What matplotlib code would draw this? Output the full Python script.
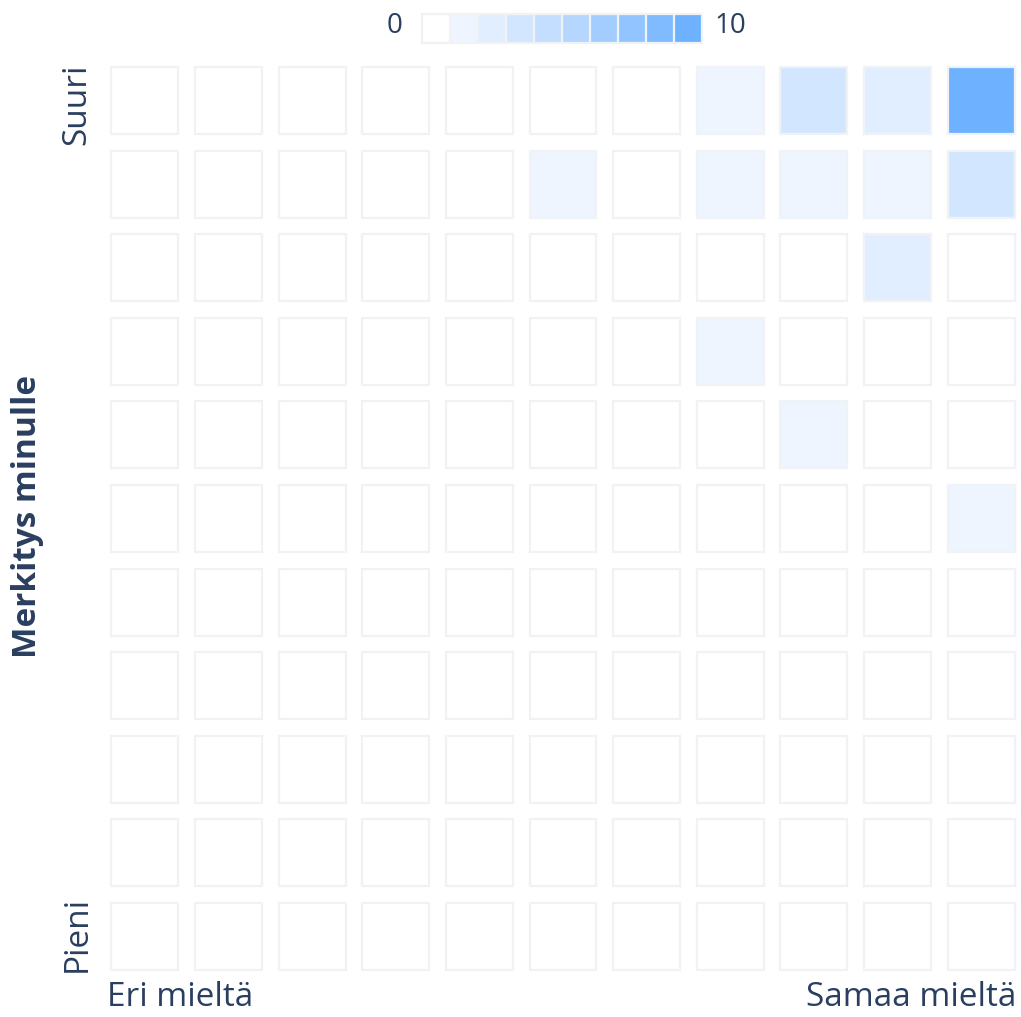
import matplotlib
matplotlib.use("Agg")
import matplotlib.pyplot as plt
import numpy as np
from matplotlib.colors import ListedColormap, BoundaryNorm
from matplotlib.patches import Rectangle
import matplotlib.cm as cm

plt.rcParams['font.family'] = ['Open Sans', 'DejaVu Sans']

# Rows from top ("Suuri") to bottom ("Pieni"); columns from "Eri mieltä" to "Samaa mieltä"
counts = [
    [0, 0, 0, 0, 0, 0, 0, 1, 3, 2, 9],
    [0, 0, 0, 0, 0, 1, 0, 1, 1, 1, 3],
    [0, 0, 0, 0, 0, 0, 0, 0, 0, 2, 0],
    [0, 0, 0, 0, 0, 0, 0, 1, 0, 0, 0],
    [0, 0, 0, 0, 0, 0, 0, 0, 1, 0, 0],
    [0, 0, 0, 0, 0, 0, 0, 0, 0, 0, 1],
    [0, 0, 0, 0, 0, 0, 0, 0, 0, 0, 0],
    [0, 0, 0, 0, 0, 0, 0, 0, 0, 0, 0],
    [0, 0, 0, 0, 0, 0, 0, 0, 0, 0, 0],
    [0, 0, 0, 0, 0, 0, 0, 0, 0, 0, 0],
    [0, 0, 0, 0, 0, 0, 0, 0, 0, 0, 0],
]
x_labels = ["Eri mieltä", "Samaa mieltä"]
y_labels = ["Suuri", "Pieni"]
y_title = "Merkitys minulle"
scale_min, scale_max = 0, 10
scale_colors = ["#ffffff", "#eef5ff", "#e1eeff", "#d3e6ff", "#c4deff",
                "#b4d6ff", "#a3cdff", "#92c4ff", "#80bbff", "#6eb1ff"]

TEXT = "#2a3f5f"
EDGE = "#f0f3f6"

cmap = ListedColormap(scale_colors)
norm = BoundaryNorm(np.linspace(scale_min, scale_max, len(scale_colors) + 1), cmap.N)

W, H = 1021, 1017
fig = plt.figure(figsize=(W / 100, H / 100), dpi=100)
ax = fig.add_axes([103 / W, 38.7 / H, 920 / W, 919.6 / H])

data = np.array(counts)
nrows, ncols = data.shape
size = 0.8
for r in range(nrows):
    for c in range(ncols):
        v = data[r, c]
        yv = nrows - 1 - r
        ax.add_patch(Rectangle((c - size / 2, yv - size / 2), size, size,
                               facecolor=cmap(norm(v)), edgecolor=EDGE, linewidth=1.6))
ax.set_xlim(-0.5, ncols - 0.5)
ax.set_ylim(-0.5, nrows - 0.5)
ax.axis('off')

# axis end labels
FS = 24
fig.text(107 / W, 1 - 998 / H, x_labels[0], ha='left', va='center', fontsize=FS, color=TEXT)
fig.text(1016 / W, 1 - 998 / H, x_labels[1], ha='right', va='center', fontsize=FS, color=TEXT)
fig.text(77 / W, 1 - 104 / H, y_labels[0], ha='center', va='center', rotation=90, fontsize=FS, color=TEXT)
fig.text(77 / W, 1 - 934 / H, y_labels[1], ha='center', va='center', rotation=90, fontsize=FS, color=TEXT)
fig.text(27 / W, 1 - 516 / H, y_title, ha='center', va='center', rotation=90, fontsize=FS,
         fontweight='bold', color=TEXT)

# colorbar
cax = fig.add_axes([422 / W, 1 - 42.5 / H, 280 / W, 28.5 / H])
sm = cm.ScalarMappable(norm=norm, cmap=cmap)
cb = fig.colorbar(sm, cax=cax, orientation='horizontal', drawedges=True)
cb.dividers.set_color(EDGE)
cb.dividers.set_linewidth(1.6)
cb.outline.set_edgecolor(EDGE)
cb.outline.set_linewidth(1.6)
cax.minorticks_off()
cax.set_xticks([])
cax.tick_params(length=0, which='both')
fig.text(395 / W, 1 - 26 / H, str(scale_min), ha='center', va='center', fontsize=20, color=TEXT)
fig.text(730 / W, 1 - 26 / H, str(scale_max), ha='center', va='center', fontsize=20, color=TEXT)

fig.savefig("out.png", dpi=100, facecolor='white')
